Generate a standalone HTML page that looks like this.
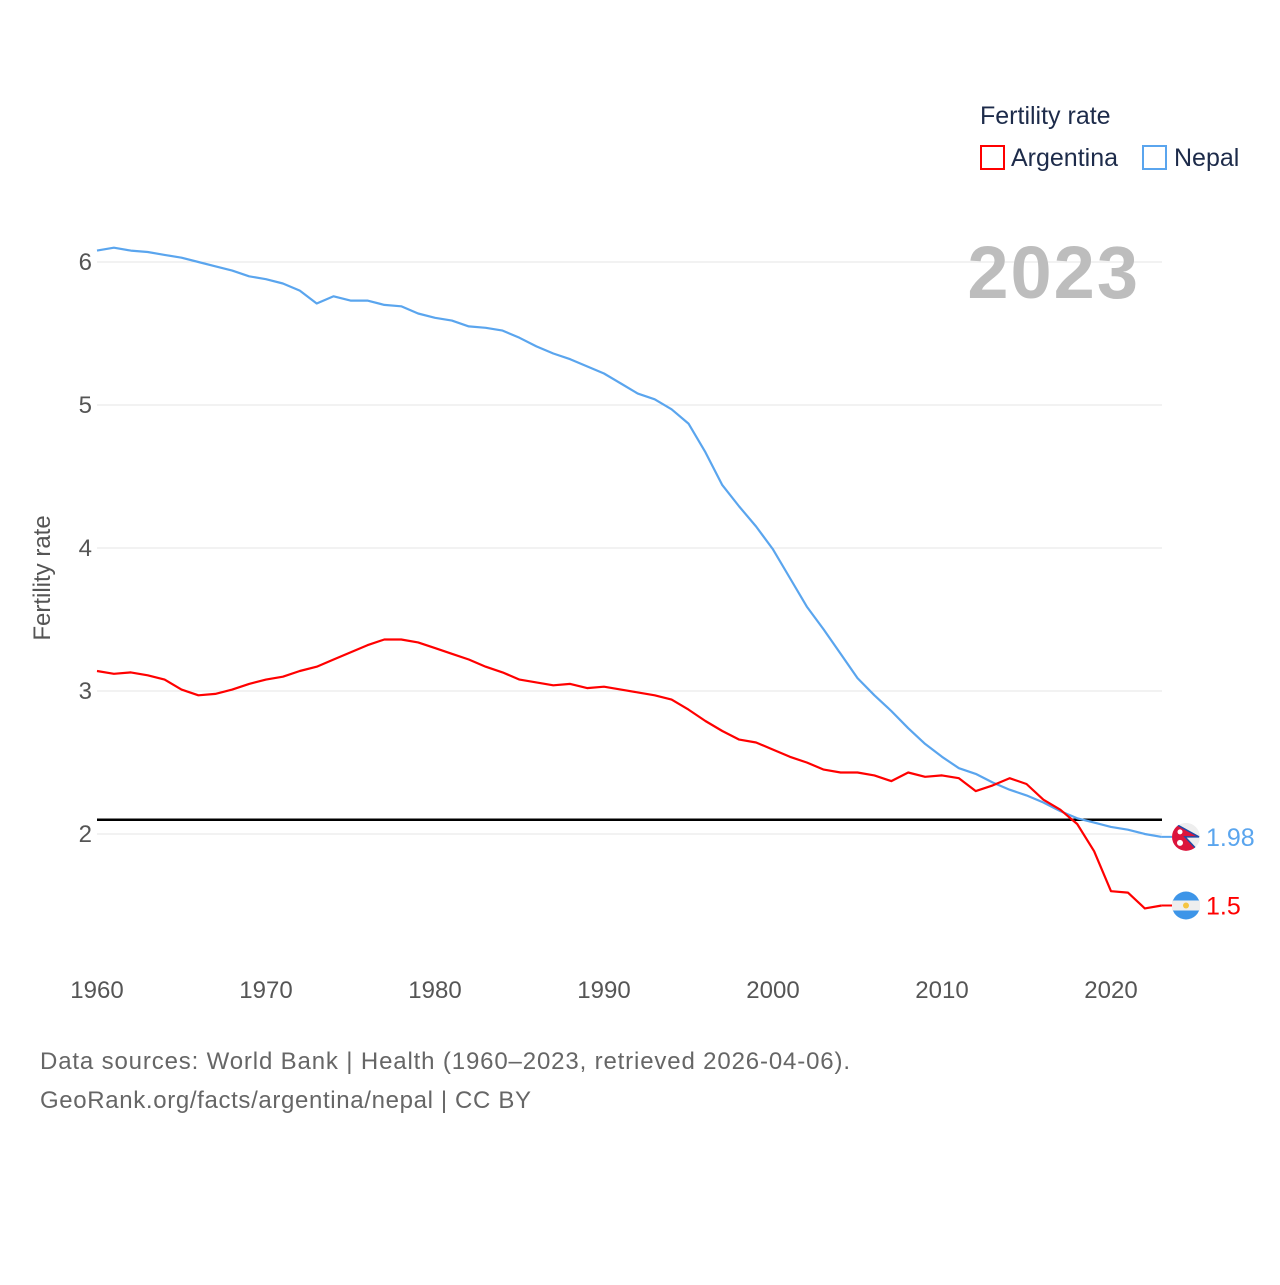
<!DOCTYPE html>
<html><head><meta charset="utf-8"><style>
body{margin:0;background:#fff;}
svg text{font-family:"Liberation Sans",sans-serif;}
</style></head><body>
<svg id="chart" width="1280" height="1280" viewBox="0 0 1280 1280">
<defs>
<clipPath id="cn"><circle cx="1186" cy="837" r="14"/></clipPath>
</defs>
<g id="grid"></g>
<g id="yt"></g>
<g id="xt"></g>
<text x="50" y="578" transform="rotate(-90 50 578)" text-anchor="middle" font-size="24" fill="#555">Fertility rate</text>
<text x="1140" y="298" text-anchor="end" font-size="74" font-weight="bold" letter-spacing="2" fill="#bdbdbd">2023</text>
<g id="series"></g>
<text x="980" y="124" font-size="25" fill="#1d2b4a">Fertility rate</text>
<g><rect x="981" y="146" width="23" height="23" fill="none" stroke="#f00" stroke-width="2"/><text x="1011" y="166" font-size="25" fill="#1d2b4a">Argentina</text></g>
<g><rect x="1143" y="146" width="23" height="23" fill="none" stroke="#5aa5ee" stroke-width="2"/><text x="1174" y="166" font-size="25" fill="#1d2b4a">Nepal</text></g>
<text x="40" y="1069" font-size="24" fill="#666" textLength="810">Data sources: World Bank | Health (1960–2023, retrieved 2026-04-06).</text>
<text x="40" y="1108" font-size="24" fill="#666" textLength="491">GeoRank.org/facts/argentina/nepal | CC BY</text>
</svg>
<script>
const years=[];for(let y=1960;y<=2023;y++)years.push(y);
const nepal=[6.08,6.10,6.08,6.07,6.05,6.03,6.00,5.97,5.94,5.90,5.88,5.85,5.80,5.71,5.76,5.73,5.73,5.70,5.69,5.64,5.61,5.59,5.55,5.54,5.52,5.47,5.41,5.36,5.32,5.27,5.22,5.15,5.08,5.04,4.97,4.87,4.67,4.44,4.29,4.15,3.99,3.79,3.59,3.43,3.26,3.09,2.97,2.86,2.74,2.63,2.54,2.46,2.42,2.36,2.31,2.27,2.22,2.16,2.11,2.08,2.05,2.03,2.00,1.98];
const argentina=[3.14,3.12,3.13,3.11,3.08,3.01,2.97,2.98,3.01,3.05,3.08,3.10,3.14,3.17,3.22,3.27,3.32,3.36,3.36,3.34,3.30,3.26,3.22,3.17,3.13,3.08,3.06,3.04,3.05,3.02,3.03,3.01,2.99,2.97,2.94,2.87,2.79,2.72,2.66,2.64,2.59,2.54,2.50,2.45,2.43,2.43,2.41,2.37,2.43,2.40,2.41,2.39,2.30,2.34,2.39,2.35,2.24,2.17,2.07,1.88,1.60,1.59,1.48,1.50];
const yTicks=[2,3,4,5,6];
const xTicks=[1960,1970,1980,1990,2000,2010,2020];
const replacement=[2.1];
const X=y=>97+(y-1960)*16.9, Y=v=>834-(v-2)*143;
const NS="http://www.w3.org/2000/svg";
function mk(t,a,p){const e=document.createElementNS(NS,t);for(const k in a)e.setAttribute(k,a[k]);p.appendChild(e);return e;}
const grid=document.getElementById('grid'),yt=document.getElementById('yt'),xt=document.getElementById('xt'),ser=document.getElementById('series');
yTicks.forEach(v=>{
 const l=mk('line',{x1:97,x2:1162,y1:Y(v),y2:Y(v),stroke:'#e6e6e6','stroke-width':1},grid);
 
 
 const t=mk('text',{x:92,y:Y(v)+8,'text-anchor':'end','font-size':24,fill:'#555'},yt);t.textContent=v;
 
 
});
xTicks.forEach(v=>{
 const t=mk('text',{x:X(v),y:998,'text-anchor':'middle','font-size':24,fill:'#555'},xt);t.textContent=v;
 
 
});
replacement.forEach(v=>{
 const l=mk('line',{x1:97,x2:1162,y1:Y(v),y2:Y(v),stroke:'#000','stroke-width':2.5},ser);
 
 
});
function line(data,col,name){
 const d=data.map((v,i)=>(i?'L':'M')+X(years[i]).toFixed(1)+','+Y(v).toFixed(1)).join('');
 const p=mk('path',{d:d,fill:'none',stroke:col,'stroke-width':2.2,'stroke-linejoin':'round'},ser);
 
 
 const last=data[data.length-1],lx=X(years[years.length-1]),ly=Y(last);
 mk('line',{x1:lx,x2:1172,y1:ly,y2:ly,stroke:col,'stroke-width':2},ser);
 const t=mk('text',{x:1206,y:ly+9,'font-size':25,fill:col},ser);t.textContent=last;
 
 
 return ly;
}
const ny=line(nepal,'#5aa5ee','nepal');
const ay=line(argentina,'#f00','argentina');
const fn=mk('g',{'clip-path':'url(#cn)',transform:`translate(0,${ny-837})`},ser);


mk('circle',{cx:1186,cy:837,r:14,fill:'#eee'},fn);
mk('path',{d:'M1170,821L1199,837L1185,837L1199,852L1170,852Z',fill:'#dc143c',stroke:'#1f4ba5','stroke-width':1.5},fn);
mk('circle',{cx:1180,cy:832,r:2.5,fill:'#fff'},fn);mk('circle',{cx:1180,cy:843,r:3,fill:'#fff'},fn);
const fa=mk('g',{},ser);


mk('circle',{cx:1186,cy:ay,r:14,fill:'#3d95e8'},fa);
mk('rect',{x:1172,y:ay-5,width:28,height:10,fill:'#eee'},fa);
mk('circle',{cx:1186,cy:ay,r:3,fill:'#f5c542'},fa);
</script>
</body></html>
